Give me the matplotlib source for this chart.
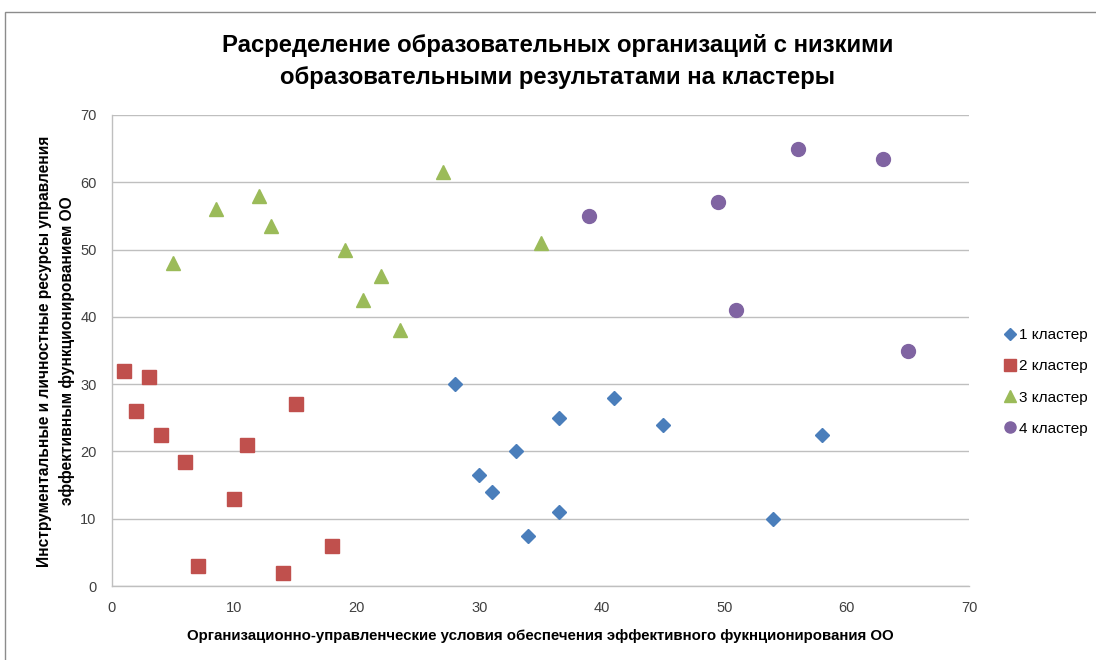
import matplotlib
matplotlib.use("Agg")
import matplotlib.pyplot as plt
from matplotlib.patches import Rectangle

# данные кластеров
c1_x = [28, 30, 31, 33, 34, 36.5, 36.5, 41, 45, 54, 58]
c1_y = [30, 16.5, 14, 20, 7.5, 25, 11, 28, 24, 10, 22.5]

c2_x = [1, 2, 3, 4, 6, 7, 10, 11, 14, 15, 18]
c2_y = [32, 26, 31, 22.5, 18.5, 3, 13, 21, 2, 27, 6]

c3_x = [5, 8.5, 12, 13, 19, 20.5, 22, 23.5, 27, 35]
c3_y = [48, 56, 58, 53.5, 50, 42.5, 46, 38, 61.5, 51]

c4_x = [39, 49.5, 51, 56, 63, 65]
c4_y = [55, 57, 41, 65, 63.5, 35]

labels = ["1 кластер", "2 кластер", "3 кластер", "4 кластер"]
x_ticks = [0, 10, 20, 30, 40, 50, 60, 70]
y_ticks = [0, 10, 20, 30, 40, 50, 60, 70]

title = "Расределение образовательных организаций с низкими\nобразовательными результатами на кластеры"
x_label = "Организационно-управленческие условия обеспечения эффективного фукнционирования ОО"
y_label = "Инструментальные и личностные ресурсы управления\nэффективным функционированием ОО"

plt.rcParams["font.family"] = ["Liberation Sans", "DejaVu Sans"]

W, H = 1096, 660
fig = plt.figure(figsize=(W / 100, H / 100), dpi=100)
fig.patch.set_facecolor("white")

# рамка области диаграммы
fig.patches.append(Rectangle((5 / W, -0.1), 1.2, 1 - 12 / H + 0.1, transform=fig.transFigure,
                             fill=False, edgecolor="#8c8c8c", linewidth=1))

ax = fig.add_axes([112 / W, 1 - 586 / H, (969 - 112) / W, (586 - 115) / H])

ax.plot(c1_x, c1_y, linestyle="none", marker="D", markersize=7.2, color="#4a7ebb", label=labels[0])
ax.plot(c2_x, c2_y, linestyle="none", marker="s", markersize=10, color="#c0504d", label=labels[1])
ax.plot(c3_x, c3_y, linestyle="none", marker="^", markersize=10.5, color="#9bbb59", label=labels[2])
ax.plot(c4_x, c4_y, linestyle="none", marker="o", markersize=10, color="#8064a2", label=labels[3])

ax.set_xlim(0, 70)
ax.set_ylim(0, 70)
ax.set_xticks(x_ticks)
ax.set_yticks(y_ticks)
ax.tick_params(length=0, pad=11, labelsize=10.5, labelcolor="#404040")
ax.grid(axis="y", color="#bfbfbf", linewidth=1)
ax.set_axisbelow(True)
for s in ["top", "right"]:
    ax.spines[s].set_visible(False)
for s in ["left", "bottom"]:
    ax.spines[s].set_color("#bfbfbf")
    ax.spines[s].set_linewidth(1)

fig.text(558 / W, 1 - 61.5 / H, title, ha="center", va="center", fontsize=17.2,
         fontweight="bold", linespacing=1.5)
fig.text(540.5 / W, 1 - 636 / H, x_label, ha="center", va="center", fontsize=10.8,
         fontweight="bold")
fig.text(56 / W, 1 - 351 / H, y_label, ha="center", va="center", rotation=90,
         fontsize=11.2, fontweight="bold", linespacing=1.6)

ax.legend(loc="center left", bbox_to_anchor=(999 / W, 1 - 382 / H),
          bbox_transform=fig.transFigure, frameon=False, fontsize=11,
          handlelength=0.6, handletextpad=0.3, labelspacing=1.12, borderaxespad=0,
          markerscale=0.8)

fig.savefig("out.png", dpi=100)
